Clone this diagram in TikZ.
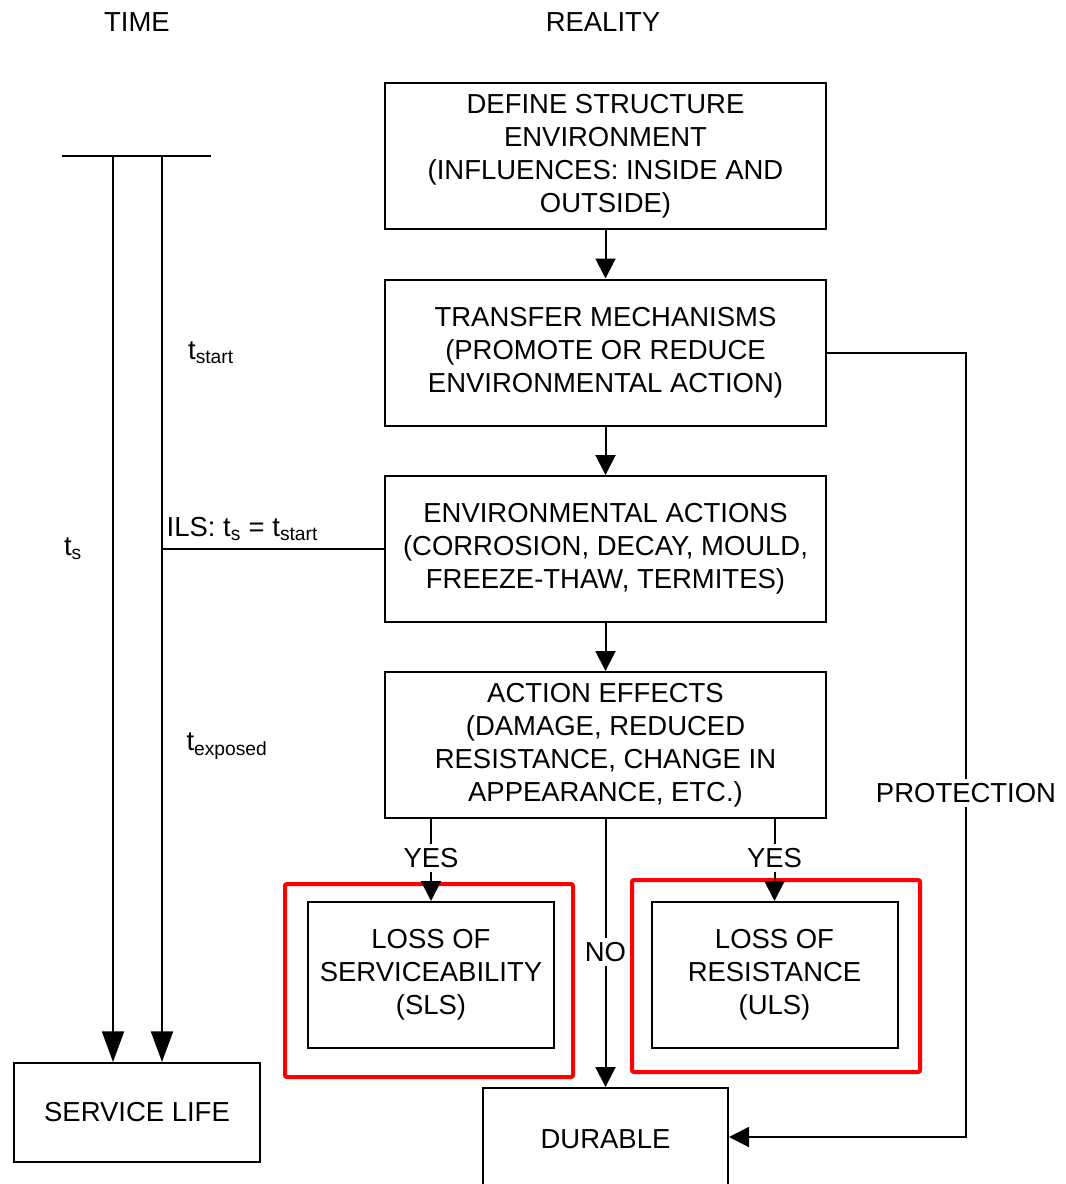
\documentclass[tikz,border=0pt]{standalone}
\usepackage{fontspec}
\setmainfont{Liberation Sans}
\usetikzlibrary{arrows.meta}
\begin{document}
\begin{tikzpicture}[x=0.75pt,y=-0.75pt,
  font=\fontsize{20.6}{24.75}\selectfont,
  line width=1.5pt,
  box/.style={draw, align=center, inner sep=0pt, minimum width=330.75pt, minimum height=109.5pt},
  smallbox/.style={draw, align=center, inner sep=0pt, minimum width=184.5pt, minimum height=109.5pt},
  redframe/.style={draw=red, line width=3pt, rounded corners=1.5pt, inner sep=0pt, minimum width=216pt},
  arr/.style={-{Triangle[length=15pt,width=15pt]}},
  longarr/.style={-{Triangle[length=23pt,width=16.5pt]}},
  lbl/.style={inner sep=2pt},
  gaplbl/.style={fill=white, inner sep=3pt}]
  \clip (0,0) rectangle (1065,1184);
  \fill[white] (0,0) rectangle (1065,1184);

  % column headings
  \node[lbl] (time) at (137,22) {TIME};
  \node[lbl] (reality) at (603,22) {REALITY};

  % main chain
  \node[box] (define) at (605.5,156) {DEFINE STRUCTURE\\ENVIRONMENT\\(INFLUENCES: INSIDE AND\\OUTSIDE)};
  \node[box] (transfer) at (605.5,352.5) {TRANSFER MECHANISMS\\(PROMOTE OR REDUCE\\ENVIRONMENTAL ACTION)};
  \node[box] (actions) at (605.5,549) {ENVIRONMENTAL ACTIONS\\(CORROSION, DECAY, MOULD,\\FREEZE-THAW, TERMITES)};
  \node[box] (effects) at (605.5,745) {ACTION EFFECTS\\(DAMAGE, REDUCED\\RESISTANCE, CHANGE IN\\APPEARANCE, ETC.)};

  % limit states
  \node[redframe, minimum height=144.75pt] (slsframe) at (429,980.5) {};
  \node[redframe, minimum height=144pt] (ulsframe) at (776,976) {};
  \node[smallbox] (sls) at (431,975) {LOSS OF\\SERVICEABILITY\\(SLS)};
  \node[smallbox] (uls) at (774.5,975) {LOSS OF\\RESISTANCE\\(ULS)};

  % outcomes
  \node[draw, inner sep=0pt, minimum width=183.75pt, minimum height=87pt] (durable) at (605.5,1146) {\raisebox{10.5pt}{DURABLE}};
  \node[smallbox, minimum height=74.25pt] (slife) at (137,1112.5) {SERVICE LIFE};

  % chain connectors
  \draw[arr] (define) -- (transfer);
  \draw[arr] (transfer) -- (actions);
  \draw[arr] (actions) -- (effects);
  \draw[arr] (effects.south -| sls.north) -- (sls.north);
  \draw[arr] (effects.south -| uls.north) -- (uls.north);
  \draw[arr] (effects.south) -- (durable.north);
  \node[gaplbl] (yes1) at (431,858) {YES};
  \node[gaplbl] (yes2) at (774.5,858) {YES};
  \node[gaplbl] (no) at (605.5,952) {NO};

  % protection loop
  \coordinate (pturn) at (966,1137);
  \draw[arr] (transfer.east) -| (pturn) -- (pturn -| durable.east);
  \node[gaplbl] (protect) at (966,793) {PROTECTION};

  % time axis
  \coordinate (barl) at (62,156);
  \coordinate (barr) at (211,156);
  \coordinate (ts) at (113,156);
  \coordinate (tst) at (162,156);
  \draw (barl) -- (barr);
  \draw[longarr] (ts) -- (ts |- slife.north);
  \draw[longarr] (tst) -- (tst |- slife.north);
  \coordinate (ils) at (162,549);
  \draw (ils) -- (actions.west);

  \node[lbl] (tstart) at (211,353) {t\textsubscript{start}};
  \node[lbl] (tslbl) at (73,549) {t\textsubscript{s}};
  \node[lbl, anchor=west] (ilslbl) at (163,529) {ILS: t\textsubscript{s} = t\textsubscript{start}};
  \node[lbl] (texp) at (227,746) {t\textsubscript{exposed}};
\end{tikzpicture}
\end{document}
